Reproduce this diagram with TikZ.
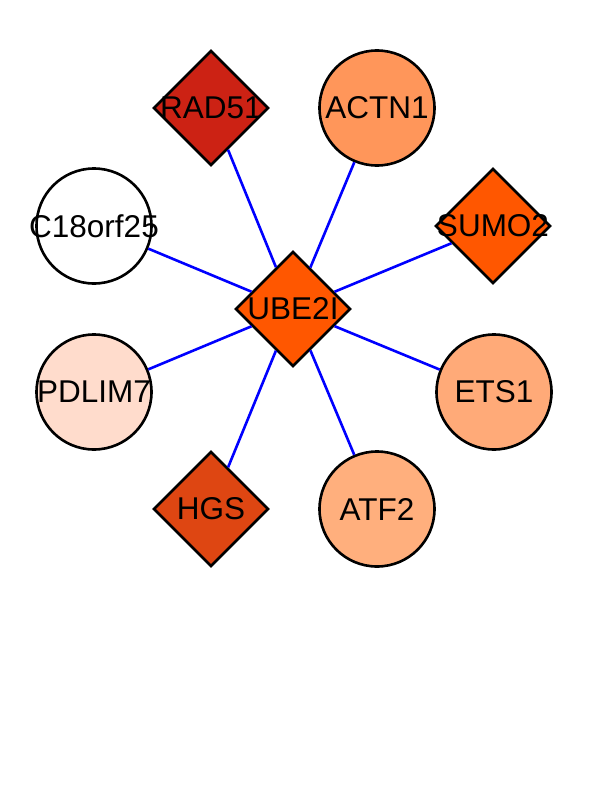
\documentclass[tikz,border=0pt]{standalone}
\usepackage{fontspec}
\setmainfont{Liberation Sans}
\usetikzlibrary{shapes.geometric}
\definecolor{cRAD}{RGB}{204,34,20}
\definecolor{cUBE}{RGB}{255,87,0}
\definecolor{cHGS}{RGB}{222,70,18}
\definecolor{cACTN}{RGB}{255,150,90}
\definecolor{cETS}{RGB}{255,170,120}
\definecolor{cATF}{RGB}{255,175,125}
\definecolor{cPDL}{RGB}{255,220,204}
\tikzset{
  gene/.style={draw=black, line width=2.6pt, inner sep=0pt},
  dia/.style={gene, diamond, shape aspect=1, minimum width=115pt, minimum height=115pt},
  circ/.style={gene, circle, minimum size=115pt},
  edge/.style={draw=blue, line width=2.6pt},
  every label/.style={font=\fontsize{31.5}{32}\selectfont, inner sep=0pt, text=black},
}
\begin{document}
\begin{tikzpicture}[x=1pt,y=-1pt]
\useasboundingbox (0,0) rectangle (612,792);
\fill[white] (0,0) rectangle (612,792);
\node[dia, fill=cUBE, label={center:UBE2I}] (ube) at (293,309) {};
\node[dia, fill=cRAD, label={center:RAD51}] (rad) at (211,108) {};
\node[circ, fill=cACTN, label={center:ACTN1}] (actn) at (377,108) {};
\node[dia, fill=cUBE, label={center:SUMO2}] (sumo) at (493,226) {};
\node[circ, fill=white, label={center:C18orf25}] (c18) at (94,226) {};
\node[circ, fill=cPDL, label={center:PDLIM7}] (pdl) at (94,392) {};
\node[circ, fill=cETS, label={center:ETS1}] (ets) at (494,392) {};
\node[dia, fill=cHGS, label={center:HGS}] (hgs) at (211,509) {};
\node[circ, fill=cATF, label={center:ATF2}] (atf) at (377,509) {};
\foreach \t in {rad,actn,sumo,c18,pdl,ets,hgs,atf}{
  \draw[edge] (ube) -- (\t);
}
\end{tikzpicture}
\end{document}
